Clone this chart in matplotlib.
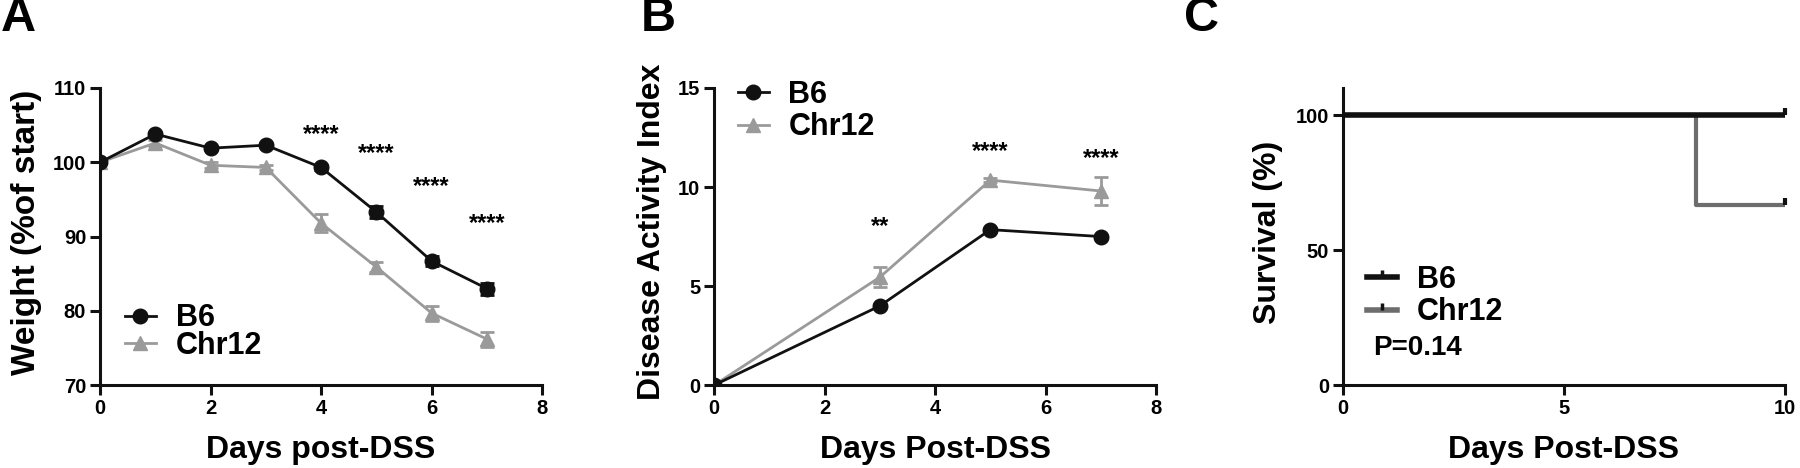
import matplotlib
matplotlib.use("Agg")
import matplotlib.pyplot as plt
from matplotlib.lines import Line2D
from matplotlib import font_manager as fm

# ---------------- data ----------------
days_a = [0, 1, 2, 3, 4, 5, 6, 7]
weight_b6 = [100, 103.8, 101.9, 102.3, 99.3, 93.3, 86.7, 83.0]
weight_b6_err = [0.2, 0.3, 0.3, 0.3, 0.4, 0.8, 0.7, 0.8]
weight_chr12 = [100, 102.6, 99.6, 99.3, 91.8, 85.9, 79.7, 76.2]
weight_chr12_err = [0.2, 0.4, 0.4, 0.4, 1.2, 0.7, 1.0, 1.0]
stars_a_x = [4, 5, 6, 7]
stars_a_y = [103.7, 101.2, 96.7, 91.8]
stars_a_txt = ["****", "****", "****", "****"]

days_b = [0, 3, 5, 7]
dai_b6 = [0, 4.0, 7.85, 7.5]
dai_b6_err = [0, 0.1, 0.1, 0.1]
dai_chr12 = [0, 5.45, 10.35, 9.8]
dai_chr12_err = [0, 0.5, 0.12, 0.7]
stars_b_x = [3, 5, 7]
stars_b_y = [8.0, 11.8, 11.45]
stars_b_txt = ["**", "****", "****"]

surv_days_b6 = [0, 10]
surv_b6 = [100, 100]
surv_days_chr12 = [0, 8, 10]
surv_chr12 = [100, 66.7, 66.7]
p_text = "P=0.14"

labels = ["B6", "Chr12"]
C_BLACK = "#111111"
C_GRAY = "#9a9a9a"
C_GRAY_DARK = "#6d6d6d"

# ---------------- style ----------------
avail = {f.name for f in fm.fontManager.ttflist}
main_font = "Liberation Sans" if "Liberation Sans" in avail else "DejaVu Sans"
plt.rcParams["font.family"] = [main_font, "DejaVu Sans"]
plt.rcParams["font.weight"] = "bold"

fig = plt.figure(figsize=(18, 4.68), dpi=100)

AX_H = 297.0  # axes height in px
AX_W = 442.0


def style_axes(ax, xlabel, ylabel, ylab_x, ylab_fs=23):
    for s in ["top", "right"]:
        ax.spines[s].set_visible(False)
    for s in ["left", "bottom"]:
        ax.spines[s].set_linewidth(2.2)
        ax.spines[s].set_color(C_BLACK)
    ax.tick_params(direction="out", length=7, width=2.2, color=C_BLACK,
                   labelsize=14.5, pad=3)
    for lab in ax.get_xticklabels() + ax.get_yticklabels():
        lab.set_fontweight("bold")
    ax.set_xlabel(xlabel, fontsize=23, fontweight="bold")
    ax.xaxis.set_label_coords(0.5, -(458 - 385) / AX_H)
    ax.xaxis.label.set_verticalalignment("baseline")
    ax.set_ylabel(ylabel, fontsize=ylab_fs, fontweight="bold")
    ax.yaxis.set_label_coords(ylab_x, 0.515)
    ax.yaxis.label.set_verticalalignment("center")


axA = fig.add_axes([0.0556, 0.177, 0.2456, 0.635])
axB = fig.add_axes([0.3967, 0.177, 0.2456, 0.635])
axC = fig.add_axes([0.746, 0.177, 0.2456, 0.635])

eb_kw = dict(lw=2.0, ms=10.5, capsize=5, capthick=2, elinewidth=2)
leg_kw = dict(frameon=False, fontsize=22, handlelength=1.0, handletextpad=0.65,
              borderaxespad=0.0, borderpad=0.0, numpoints=1)

# ---------- Panel A ----------
axA.errorbar(days_a, weight_b6, yerr=weight_b6_err, color=C_BLACK, marker="o",
             label=labels[0], zorder=3, **eb_kw)
axA.errorbar(days_a, weight_chr12, yerr=weight_chr12_err, color=C_GRAY, marker="^",
             label=labels[1], zorder=2, **eb_kw)
for x, y, t in zip(stars_a_x, stars_a_y, stars_a_txt):
    axA.text(x, y, t, ha="center", va="center", fontsize=17, fontweight="bold")
axA.set_xlim(0, 8)
axA.set_ylim(70, 110)
axA.set_xticks([0, 2, 4, 6, 8])
axA.set_yticks([70, 80, 90, 100, 110])
hA, lA = axA.get_legend_handles_labels()
axA.legend([h[0] for h in hA], lA, loc="center left",
           bbox_to_anchor=((125 - 100) / AX_W, (385 - 332) / AX_H),
           labelspacing=-0.08, **leg_kw)
style_axes(axA, "Days post-DSS", "Weight (%of start)", -0.167, ylab_fs=24)
axA.text(-0.225, 1 + (88 - 19) / AX_H, "A", transform=axA.transAxes, fontsize=35,
         fontweight="bold", ha="left", va="center")

# ---------- Panel B ----------
axB.errorbar(days_b, dai_b6, yerr=dai_b6_err, color=C_BLACK, marker="o",
             label=labels[0], zorder=3, **eb_kw)
axB.errorbar(days_b, dai_chr12, yerr=dai_chr12_err, color=C_GRAY, marker="^",
             label=labels[1], zorder=2, **eb_kw)
for x, y, t in zip(stars_b_x, stars_b_y, stars_b_txt):
    axB.text(x, y, t, ha="center", va="center", fontsize=17, fontweight="bold")
axB.set_xlim(0, 8)
axB.set_ylim(0, 15)
axB.set_xticks([0, 2, 4, 6, 8])
axB.set_yticks([0, 5, 10, 15])
hB, lB = axB.get_legend_handles_labels()
axB.legend([h[0] for h in hB], lB, loc="center left",
           bbox_to_anchor=((738 - 714) / AX_W, 1 - (111 - 88) / AX_H),
           labelspacing=0.08, **leg_kw)
style_axes(axB, "Days Post-DSS", "Disease Activity Index", -0.14)
axB.text(-0.165, 1 + (88 - 19) / AX_H, "B", transform=axB.transAxes, fontsize=35,
         fontweight="bold", ha="left", va="center")

# ---------- Panel C ----------
axC.step(surv_days_b6, surv_b6, where="post", color=C_BLACK, lw=4.0, zorder=3)
axC.step(surv_days_chr12, surv_chr12, where="post", color=C_GRAY_DARK, lw=3.0, zorder=2)
axC.plot([surv_days_b6[-1]], [surv_b6[-1]], marker=2, color=C_BLACK, ms=5, mew=3,
         linestyle="none", clip_on=False, zorder=4)
axC.plot([surv_days_chr12[-1]], [surv_chr12[-1]], marker=2, color=C_BLACK, ms=5, mew=3,
         linestyle="none", clip_on=False, zorder=4)
axC.set_xlim(0, 10)
axC.set_ylim(0, 110)
axC.set_xticks([0, 5, 10])
axC.set_yticks([0, 50, 100])
hC = [Line2D([0], [0], color=C_BLACK, lw=4.0, marker=2, ms=5, mew=2.5, mec=C_BLACK),
      Line2D([0], [0], color=C_GRAY_DARK, lw=4.0, marker=2, ms=5, mew=2.5, mec=C_BLACK)]
axC.legend(hC, labels, loc="center left",
           bbox_to_anchor=((1367 - 1343) / AX_W, (385 - 296) / AX_H),
           labelspacing=0.08, **leg_kw)
axC.text((1373 - 1343) / AX_W, (385 - 348) / AX_H, p_text, transform=axC.transAxes,
         fontsize=20, fontweight="bold", ha="left", va="center")
style_axes(axC, "Days Post-DSS", "Survival (%)", -0.17)
axC.text(-0.36, 1 + (88 - 19) / AX_H, "C", transform=axC.transAxes, fontsize=35,
         fontweight="bold", ha="left", va="center")

fig.savefig("out.png", dpi=100)
